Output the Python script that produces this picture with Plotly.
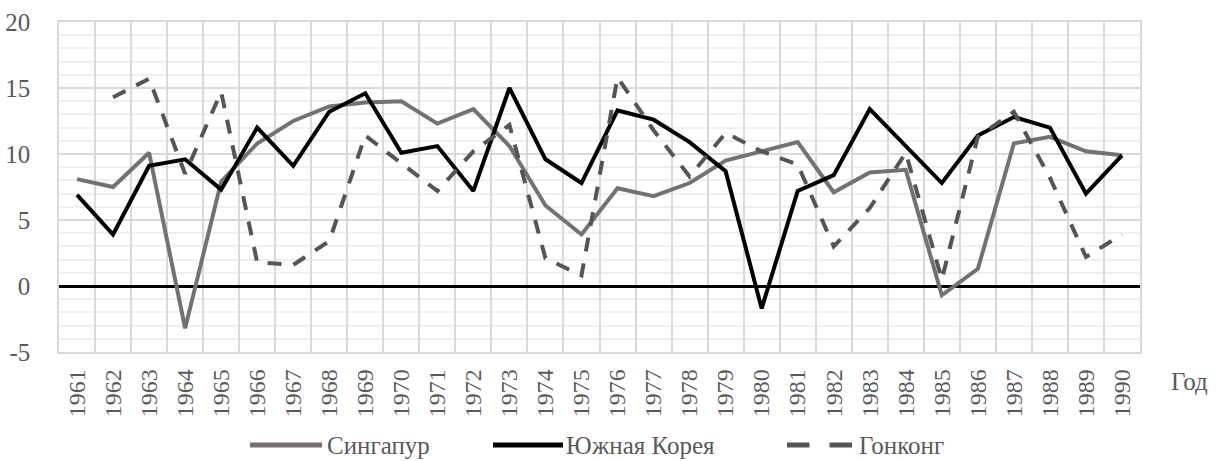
import plotly.graph_objects as go

years = [str(y) for y in range(1961, 1991)]

singapore = [8.1, 7.5, 10.1, -3.2, 7.9, 10.8, 12.5, 13.6, 13.9, 14.0,
             12.3, 13.4, 10.6, 6.1, 3.9, 7.4, 6.8, 7.8, 9.5, 10.2,
             10.9, 7.1, 8.6, 8.8, -0.7, 1.3, 10.8, 11.3, 10.2, 9.9]
korea = [6.9, 3.9, 9.1, 9.6, 7.3, 12.0, 9.1, 13.2, 14.6, 10.1,
         10.6, 7.2, 15.0, 9.6, 7.8, 13.3, 12.6, 10.9, 8.7, -1.7,
         7.2, 8.4, 13.4, 10.6, 7.8, 11.4, 12.8, 12.0, 7.0, 9.9]
hongkong = [None, 14.3, 15.7, 8.5, 14.7, 1.8, 1.6, 3.4, 11.4, 9.3,
            7.2, 10.2, 12.2, 2.1, 0.8, 15.8, 11.8, 8.3, 11.6, 10.2,
            9.2, 3.0, 5.9, 10.1, 0.5, 11.3, 13.2, 8.2, 2.2, 3.9]

y_ticks = [-5, 0, 5, 10, 15, 20]
y_labels = ["-5", "0", "5", "10", "15", "20"]

series = [
    ("Сингапур", singapore, dict(color="#767171", width=4)),
    ("Южная Корея", korea, dict(color="#000000", width=4)),
    ("Гонконг", hongkong, dict(color="#555555", width=4, dash="14px,12px")),
]

SERIF = "Times New Roman, Liberation Serif, DejaVu Serif, serif"

# plot area in pixels
L, R, T, B = 59, 1140, 22, 352


def px(x):
    return (x - L) / (R - L)


def py(y):
    return (B - y) / (B - T)


fig = go.Figure()
for name, vals, line in series:
    fig.add_trace(go.Scatter(x=years, y=vals, mode="lines", name=name,
                             line=line, showlegend=False))

txt_font = dict(family=SERIF, size=25, color="#595959")

# hand-made legend (Excel style long line samples)
leg_y = py(445)
legend_items = [
    (250, 322, 325, "#767171", None),
    (493, 563, 564, "#000000", None),
    (787, 852, 857, "#555555", "dash"),
]
for (x0, x1, xt, col, dash), (name, _, _) in zip(legend_items, series):
    if dash:
        seg = (x1 - x0 - 20) / 2
        for a in (x0, x1 - seg):
            fig.add_shape(type="line", xref="paper", yref="paper",
                          x0=px(a), x1=px(a + seg), y0=leg_y, y1=leg_y,
                          line=dict(color=col, width=5))
    else:
        fig.add_shape(type="line", xref="paper", yref="paper",
                      x0=px(x0), x1=px(x1), y0=leg_y, y1=leg_y,
                      line=dict(color=col, width=5))
    fig.add_annotation(text=name, xref="paper", yref="paper", x=px(xt), y=leg_y,
                       xanchor="left", yanchor="middle", showarrow=False,
                       font=txt_font)

fig.add_annotation(text="Год", xref="paper", yref="paper", x=px(1169), y=py(381),
                   xanchor="left", yanchor="middle", showarrow=False,
                   font=txt_font)

fig.update_layout(
    width=1216, height=461,
    margin=dict(l=L, r=1216 - R, t=T, b=461 - B),
    paper_bgcolor="white", plot_bgcolor="white",
    font=dict(family=SERIF, color="#595959"),
    showlegend=False,
    xaxis=dict(type="category", range=[-0.5, 29.5], tickson="boundaries",
               showgrid=True, gridcolor="#d9d9d9", gridwidth=1.5,
               tickangle=-90, tickfont=dict(family=SERIF, size=24), ticks="",
               showline=True, linecolor="#d9d9d9", linewidth=1.5, mirror=True,
               zeroline=False, automargin=False, ticklabelstandoff=6),
    yaxis=dict(range=[-5, 20], tickvals=y_ticks, ticktext=y_labels,
               showgrid=True, gridcolor="#d9d9d9", gridwidth=1.5,
               tickfont=dict(family=SERIF, size=25),
               minor=dict(dtick=1, showgrid=True, gridcolor="#efefef", gridwidth=1.5),
               showline=True, linecolor="#d9d9d9", linewidth=1.5, mirror=True,
               zeroline=True, zerolinecolor="#000000", zerolinewidth=2.5,
               ticks="", automargin=False, ticklabelstandoff=22),
)

fig.write_html("out.html", config={"displayModeBar": False},
               post_script="document.body.style.margin='0';"
                           "document.body.style.overflow='hidden';")
